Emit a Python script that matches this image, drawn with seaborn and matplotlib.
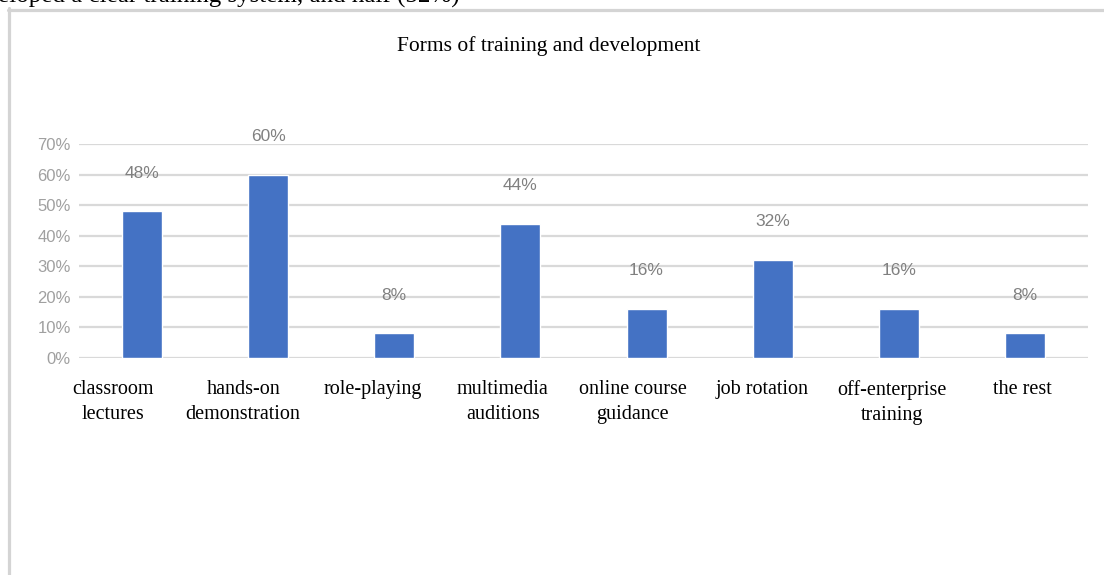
import matplotlib
matplotlib.use("Agg")
import matplotlib.pyplot as plt
import matplotlib.transforms as mtransforms
from matplotlib.lines import Line2D
from matplotlib.ticker import PercentFormatter, MultipleLocator
import seaborn as sns

# Survey shares by training form
categories = [
    "classroom\nlectures",
    "hands-on\ndemonstration",
    "role-playing",
    "multimedia\nauditions",
    "online course\nguidance",
    "job rotation",
    "off-enterprise\ntraining",
    "the rest",
]
shares = [0.48, 0.60, 0.08, 0.44, 0.16, 0.32, 0.16, 0.08]
value_labels = ["48%", "60%", "8%", "44%", "16%", "32%", "16%", "8%"]
title = "Forms of training and development"
lead_text = "eloped a clear training system, and half (52%)"

sns.set_style("white")
plt.rcParams["font.family"] = ["Liberation Serif", "DejaVu Serif"]

W, H, DPI = 1104, 575, 100
fig = plt.figure(figsize=(W / DPI, H / DPI), dpi=DPI)
fig.patch.set_facecolor("white")

# plot area in pixel terms
left_px, right_px, zero_px, top_px = 79, 1088, 357.7, 144.3
ax = fig.add_axes([left_px / W, (H - zero_px) / H,
                   (right_px - left_px) / W, (zero_px - top_px) / H])

sns.barplot(x=list(range(len(categories))), y=shares, color="#4472c4",
            width=0.317, saturation=1, ax=ax, zorder=3)

ax.set_ylim(0, 0.70)
ax.set_xlim(-0.5, len(categories) - 0.5)
ax.yaxis.set_major_locator(MultipleLocator(0.10))
ax.yaxis.set_major_formatter(PercentFormatter(1.0, decimals=0))
ax.grid(axis="y", color="#d9d9d9", linewidth=1.6, zorder=0)
ax.set_axisbelow(True)
for s in ax.spines.values():
    s.set_visible(False)
ax.tick_params(axis="both", length=0)
ax.set_xlabel("")
ax.set_ylabel("")

sans = ["Liberation Sans", "DejaVu Sans"]
for lab in ax.get_yticklabels():
    lab.set_fontfamily(sans)
    lab.set_fontsize(12)
    lab.set_color("#a0a0a0")
ax.tick_params(axis="y", pad=6)

# category labels, spread slightly wider than the bars
ax.set_xticks(range(len(categories)))
ax.set_xticklabels(categories, fontsize=14.5, color="black", linespacing=1.42)
ax.tick_params(axis="x", pad=16)
for i, lab in enumerate(ax.get_xticklabels()):
    dx_px = -28.7 + 3.7 * i
    lab.set_transform(lab.get_transform() +
                      mtransforms.ScaledTranslation(dx_px / DPI, 0, fig.dpi_scale_trans))
    lab.set_va("top")

# value labels above each bar
for i, (v, t) in enumerate(zip(shares, value_labels)):
    ax.annotate(t, xy=(i, v), xytext=(0, 27.5), textcoords="offset points",
                ha="center", va="center", fontsize=12.5, color="#808080",
                fontfamily=sans, annotation_clip=False)

fig.text(549 / W, 1 - 46 / H, title, ha="center", va="center",
         fontsize=15.5, color="black")

# frame around the chart object
fig.add_artist(Line2D([7.5 / W, 1.0], [1 - 9.5 / H, 1 - 9.5 / H],
                      transform=fig.transFigure, color="#d4d4d4", linewidth=2.3))
fig.add_artist(Line2D([8.5 / W, 8.5 / W], [0, 1 - 8 / H],
                      transform=fig.transFigure, color="#d4d4d4", linewidth=2.3))

# running document text above the chart
fig.text(-2 / W, 1 - 3 / H, lead_text, ha="left", va="baseline",
         fontsize=18, color="black")

fig.savefig("out.png", dpi=DPI)
